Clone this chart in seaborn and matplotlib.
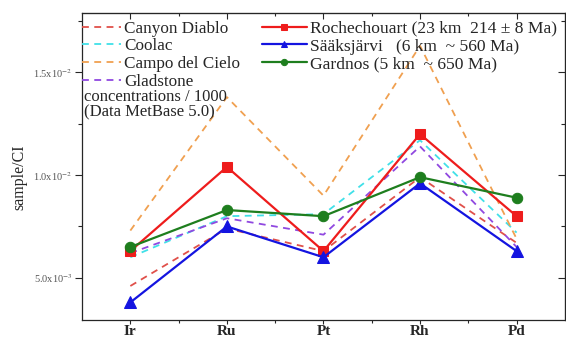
import numpy as np
import pandas as pd
import matplotlib
matplotlib.use("Agg")
import matplotlib.pyplot as plt
import seaborn as sns
from matplotlib.ticker import FixedLocator, FixedFormatter

# Data (sample / CI)
elements = ["Ir", "Ru", "Pt", "Rh", "Pd"]
canyon_diablo = [0.0046, 0.0074, 0.0063, 0.0099, 0.0067]
coolac = [0.0060, 0.0080, 0.0081, 0.0117, 0.0072]
campo_del_cielo = [0.0073, 0.0138, 0.0090, 0.0163, 0.0069]
gladstone = [0.0062, 0.0079, 0.0071, 0.0114, 0.0065]
rochechouart = [0.0063, 0.0104, 0.0063, 0.0120, 0.0080]
saaksjarvi = [0.0038, 0.0075, 0.0060, 0.0096, 0.0063]
gardnos = [0.0065, 0.0083, 0.0080, 0.0099, 0.0089]

meteorite_names = ["Canyon Diablo", "Coolac", "Campo del Cielo", "Gladstone"]
crater_names = ["Rochechouart (23 km  214 \u00b1 8 Ma)",
                "S\u00e4\u00e4ksj\u00e4rvi   (6 km  ~ 560 Ma)",
                "Gardnos (5 km  ~ 650 Ma)"]

sns.set_style("ticks")
plt.rcParams["font.family"] = ["Liberation Serif", "DejaVu Serif"]
plt.rcParams["mathtext.fontset"] = "stix"

fig = plt.figure(figsize=(5.66, 3.41), dpi=100)
ax = fig.add_axes([0.145, 0.062, 0.853, 0.900])

# Meteorite references, dashed
dashed = [(canyon_diablo, "#e0504a"), (coolac, "#40e0e8"),
          (campo_del_cielo, "#f0a050"), (gladstone, "#9048e0")]
for (vals, col), name in zip(dashed, meteorite_names):
    sns.lineplot(x=elements, y=vals, color=col, lw=1.3, sort=False,
                 linestyle=(0, (3.8, 3)), label=name, ax=ax)

# Impact craters, solid with markers
solid = [(rochechouart, "#ee1c1c", "s", 7), (saaksjarvi, "#1414e0", "^", 8),
         (gardnos, "#1e7e1e", "o", 7.5)]
for (vals, col, mk, ms), name in zip(solid, crater_names):
    sns.lineplot(x=elements, y=vals, color=col, lw=1.6, sort=False,
                 marker=mk, markersize=ms, markeredgecolor=col,
                 label=name, ax=ax)

ax.set_xlim(-0.5, 4.5)
ax.set_ylim(0.00295, 0.0179)

# y ticks
ax.yaxis.set_major_locator(FixedLocator([0.005, 0.010, 0.015]))
ax.yaxis.set_major_formatter(FixedFormatter([r"5.0x10$^{-3}$", r"1.0x10$^{-2}$",
                                             r"1.5x10$^{-2}$"]))
ax.yaxis.set_minor_locator(FixedLocator([0.0075, 0.0125, 0.0175]))
ax.tick_params(axis="y", which="major", length=5, width=0.8, labelsize=7.5,
               labelcolor="#555555", pad=2)
ax.tick_params(axis="y", which="minor", length=3, width=0.8)

# x ticks
ax.xaxis.set_minor_locator(FixedLocator([0.5, 1.5, 2.5, 3.5]))
ax.tick_params(axis="x", which="major", length=3, width=0.8, labelsize=11, pad=0.5)
ax.tick_params(axis="x", which="minor", length=2.5, width=0.8)
for lbl in ax.get_xticklabels():
    lbl.set_fontweight("bold")

# mirrored inward ticks on top and right
top = ax.secondary_xaxis("top")
top.set_xticks([0, 1, 2, 3, 4])
top.xaxis.set_minor_locator(FixedLocator([0.5, 1.5, 2.5, 3.5]))
top.tick_params(which="both", direction="in", labeltop=False, width=0.8)
top.tick_params(which="major", length=4)
top.tick_params(which="minor", length=2.5)
right = ax.secondary_yaxis("right")
right.set_yticks([0.005, 0.010, 0.015])
right.yaxis.set_minor_locator(FixedLocator([0.0075, 0.0125, 0.0175]))
right.tick_params(which="both", direction="in", labelright=False, width=0.8)
right.tick_params(which="major", length=5)
right.tick_params(which="minor", length=3)

for sp in ax.spines.values():
    sp.set_linewidth(0.9)
    sp.set_visible(True)

ax.set_xlabel("")
ax.set_ylabel("sample/CI", fontsize=11.5)
ax.yaxis.set_label_coords(-0.114, 0.466)

handles, labels = ax.get_legend_handles_labels()
leg1 = ax.legend(handles[:4], labels[:4], loc="upper left",
                 bbox_to_anchor=(0.0, 0.975), frameon=False, fontsize=12.3,
                 borderpad=0, borderaxespad=0, handlelength=2.3,
                 handletextpad=0.15, labelspacing=0.1)
ax.add_artist(leg1)
ax.legend(handles[4:], labels[4:], loc="upper left",
          bbox_to_anchor=(0.372, 0.975), frameon=False, fontsize=12.6,
          borderpad=0, borderaxespad=0, handlelength=2.6, markerscale=0.6,
          handletextpad=0.15, labelspacing=0.08)

ax.text(0.003, 0.752, "concentrations / 1000\n(Data MetBase 5.0)",
        transform=ax.transAxes, fontsize=12, va="top", ha="left",
        linespacing=0.95)

fig.savefig("out.png", dpi=100)
